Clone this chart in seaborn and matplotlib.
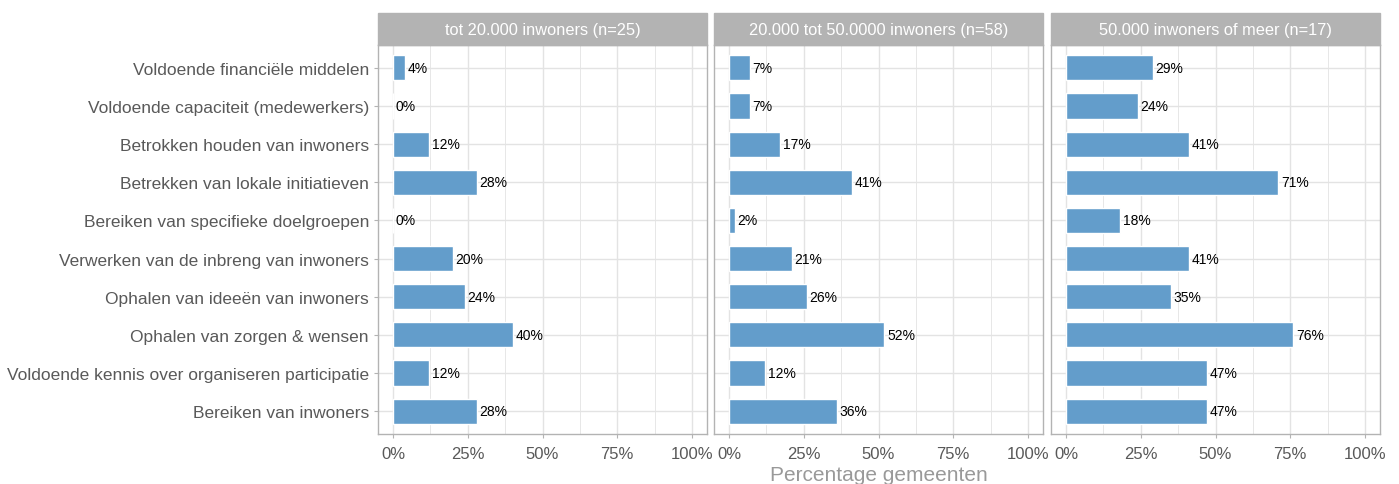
import pandas as pd
import numpy as np
import matplotlib.pyplot as plt
import seaborn as sns
from matplotlib.ticker import MultipleLocator, PercentFormatter
from matplotlib.patches import Rectangle

sns.set_style('white')
plt.rcParams['font.family'] = ['Liberation Sans', 'DejaVu Sans']

categories = [
    'Voldoende financiële middelen',
    'Voldoende capaciteit (medewerkers)',
    'Betrokken houden van inwoners',
    'Betrekken van lokale initiatieven',
    'Bereiken van specifieke doelgroepen',
    'Verwerken van de inbreng van inwoners',
    'Ophalen van ideeën van inwoners',
    'Ophalen van zorgen & wensen',
    'Voldoende kennis over organiseren participatie',
    'Bereiken van inwoners',
]
panels = [
    'tot 20.000 inwoners (n=25)',
    '20.000 tot 50.0000 inwoners (n=58)',
    '50.000 inwoners of meer (n=17)',
]
klein = [4, 0, 12, 28, 0, 20, 24, 40, 12, 28]
middel = [7, 7, 17, 41, 2, 21, 26, 52, 12, 36]
groot = [29, 24, 41, 71, 18, 41, 35, 76, 47, 47]
series = [klein, middel, groot]

bar_kleur = '#639DCB'
rand = '#B3B3B3'
grid = '#E3E3E3'
tekst = '#595959'

W, H = 1399, 485
fig = plt.figure(figsize=(W / 100, H / 100), dpi=100)

x0 = [378, 714, 1051]
pw = 329
top, bottom = 46, 435

for i, (titel, vals) in enumerate(zip(panels, series)):
    ax = fig.add_axes([x0[i] / W, 1 - bottom / H, pw / W, (bottom - top) / H])
    df = pd.DataFrame({'cat': categories, 'pct': np.array(vals) / 100})
    sns.barplot(data=df, x='pct', y='cat', ax=ax, color=bar_kleur,
                saturation=1, width=0.66, orient='h')
    ax.bar_label(ax.containers[0], labels=[f'{v}%' for v in vals],
                 padding=2, fontsize=10, color='black')
    ax.set_xlim(-0.05, 1.05)
    ax.set_ylim(len(categories) - 0.4, -0.6)
    ax.xaxis.set_major_locator(MultipleLocator(0.25))
    ax.xaxis.set_minor_locator(MultipleLocator(0.125))
    ax.xaxis.set_major_formatter(PercentFormatter(1.0, decimals=0))
    ax.grid(True, which='major', color=grid, lw=1.0)
    ax.grid(True, which='minor', axis='x', color=grid, lw=0.6)
    ax.set_axisbelow(True)
    for s in ax.spines.values():
        s.set_color(rand)
        s.set_linewidth(1.0)
    ax.tick_params(axis='both', which='major', length=3, color=rand,
                   labelcolor=tekst, labelsize=12.5, bottom=True, left=True)
    ax.tick_params(axis='x', which='major', labelsize=12, pad=6)
    ax.tick_params(axis='x', which='minor', length=0)
    ax.set_xlabel('')
    ax.set_ylabel('')
    if i > 0:
        ax.tick_params(axis='y', labelleft=False, left=False)
    # strip
    strip_h = (top - 14) / (bottom - top)
    ax.add_patch(Rectangle((0, 1), 1, strip_h, transform=ax.transAxes,
                           facecolor=rand, edgecolor=rand, clip_on=False))
    ax.text(0.5, 1 + strip_h / 2, titel, transform=ax.transAxes,
            ha='center', va='center', color='white', fontsize=11.8)

fig.text((378 + 1380) / 2 / W, 1 - 476 / H, 'Percentage gemeenten',
         ha='center', va='center', color='#999999', fontsize=15)

fig.savefig('out.png', dpi=100)
